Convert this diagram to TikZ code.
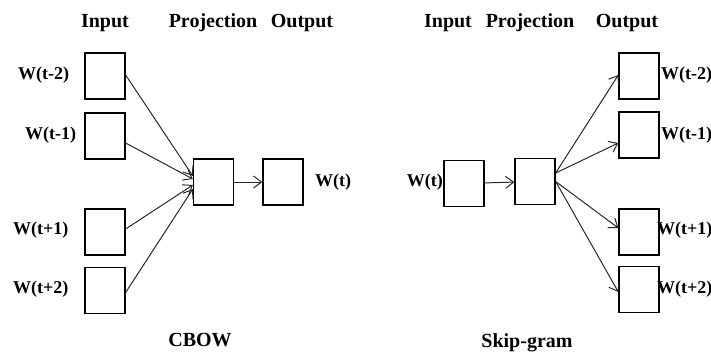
\documentclass[tikz,border=0pt]{standalone}
\usepackage{fontspec}
\setmainfont{Liberation Serif}
\usepackage{tikz}
\usetikzlibrary{arrows.meta, positioning, calc}
\definecolor{mydark}{RGB}{40,40,40}
\tikzset{
  unit/.style={draw=black, line width=1.3pt, rectangle, minimum width=40pt, minimum height=46pt, inner sep=0pt},
  arrow/.style={draw=mydark, line width=1pt, -{Straight Barb[length=8pt, width=12pt]}},
  hdr/.style={font=\fontsize{20}{22}\selectfont\bfseries},
  wlbl/.style={font=\fontsize{18}{20}\selectfont\bfseries, inner sep=0pt}
}
\begin{document}
\begin{tikzpicture}[x=1pt, y=-1pt]
  \useasboundingbox (0,0) rectangle (711,354);

  % CBOW
  \node[hdr] (cin)   at (105,23) {Input};
  \node[hdr] (cproj) at (213,23) {Projection};
  \node[hdr] (cout)  at (302,23) {Output};

  \node[unit] (ca) at (105,76) {};
  \node[unit] (cb) at (105,136) {};
  \node[unit] (cc) at (105,232) {};
  \node[unit] (cd) at (105,290.5) {};
  \node[unit] (cp) at (213.5,182) {};
  \node[unit] (co) at (283,182) {};

  \node[wlbl, anchor=west] (la) at (18,75) {W(t-2)};
  \node[wlbl, anchor=west] (lb) at (25,135) {W(t-1)};
  \node[wlbl, anchor=west] (lc) at (13,230) {W(t+1)};
  \node[wlbl, anchor=west] (ld) at (13,289) {W(t+2)};
  \node[wlbl, anchor=west] (lo) at (315,182) {W(t)};

  \draw[arrow] ([yshift=1pt]ca.east) -- ([yshift=6pt]cp.west);
  \draw[arrow] ([yshift=-7pt]cb.east) -- ([yshift=3pt]cp.west);
  \draw[arrow] ([yshift=3pt]cc.east) -- ([yshift=-3pt]cp.west);
  \draw[arrow] ([yshift=-2pt]cd.east) -- ([yshift=-7pt]cp.west);
  \draw[arrow] (cp) -- (co);

  \node[hdr] (cbow) at (200,340) {CBOW};

  % Skip-gram
  \node[hdr] (sin)   at (448,23) {Input};
  \node[hdr] (sproj) at (530,23) {Projection};
  \node[hdr] (sout)  at (627,23) {Output};

  \node[unit] (si) at (464,183.5) {};
  \node[unit] (sp) at (535,181.5) {};
  \node[unit] (sa) at (639,76) {};
  \node[unit] (sb) at (639,135) {};
  \node[unit] (sc) at (639,232) {};
  \node[unit] (sd) at (639,289.5) {};

  \node[wlbl, anchor=east] (mi) at (443,182) {W(t)};
  \node[wlbl, anchor=west] (ma) at (661,75) {W(t-2)};
  \node[wlbl, anchor=west] (mb) at (661,135) {W(t-1)};
  \node[wlbl, anchor=west] (mc) at (657,230) {W(t+1)};
  \node[wlbl, anchor=west] (md) at (657,289) {W(t+2)};

  \draw[arrow] (si) -- (sp);
  \draw[arrow] ([yshift=8.5pt]sp.east) -- ([yshift=1pt]sa.west);
  \draw[arrow] ([yshift=8.5pt]sp.east) -- ([yshift=-8pt]sb.west);
  \draw[arrow] (sp.east) -- ([yshift=4pt]sc.west);
  \draw[arrow] (sp.east) -- ([yshift=-2.5pt]sd.west);

  \node[hdr] (skip) at (527,343) {Skip-gram};
\end{tikzpicture}
\end{document}
